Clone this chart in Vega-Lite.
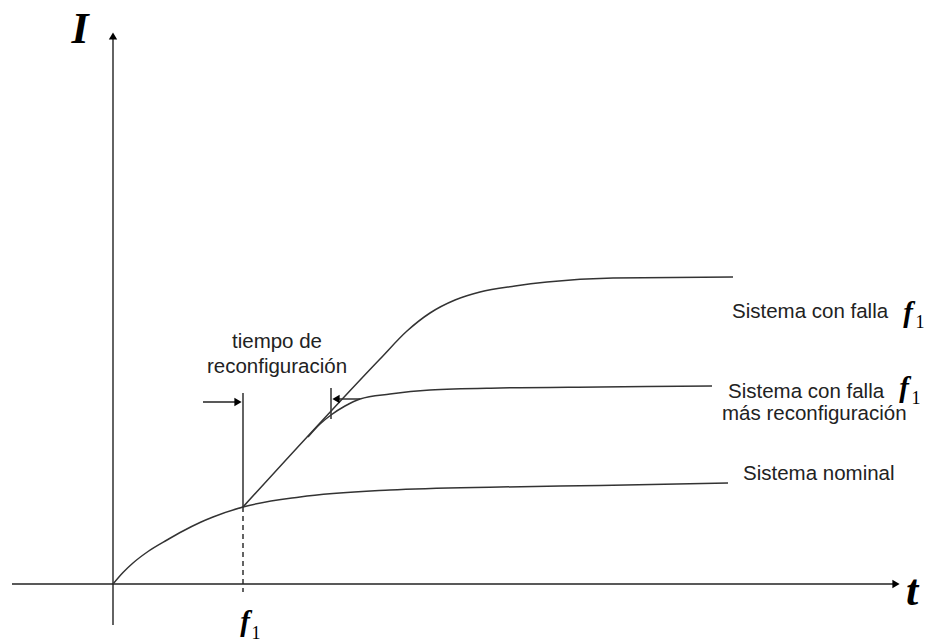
{
  "$schema": "https://vega.github.io/schema/vega-lite/v6.json",
  "width": 929,
  "height": 644,
  "autosize": {"type": "none"},
  "padding": 0,
  "background": "white",
  "config": {"view": {"stroke": null}},
  "datasets": {
    "curves": [
      {"series": "nominal", "t": 0.0, "I": 0.0},
      {"series": "nominal", "t": 0.10, "I": 0.115},
      {"series": "nominal", "t": 0.20, "I": 0.21},
      {"series": "nominal", "t": 0.35, "I": 0.325},
      {"series": "nominal", "t": 0.54, "I": 0.44},
      {"series": "nominal", "t": 0.70, "I": 0.53},
      {"series": "nominal", "t": 0.87, "I": 0.615},
      {"series": "nominal", "t": 1.00, "I": 0.67},
      {"series": "nominal", "t": 1.30, "I": 0.77},
      {"series": "nominal", "t": 1.87, "I": 0.87},
      {"series": "nominal", "t": 2.77, "I": 0.94},
      {"series": "nominal", "t": 3.87, "I": 0.97},
      {"series": "nominal", "t": 4.87, "I": 0.985},
      {"series": "nominal", "t": 6.15, "I": 1.01},
      {"series": "falla", "t": 1.30, "I": 0.77},
      {"series": "falla", "t": 2.67, "I": 2.25},
      {"series": "falla", "t": 2.94, "I": 2.53},
      {"series": "falla", "t": 3.17, "I": 2.71},
      {"series": "falla", "t": 3.42, "I": 2.84},
      {"series": "falla", "t": 3.67, "I": 2.92},
      {"series": "falla", "t": 4.02, "I": 2.98},
      {"series": "falla", "t": 4.34, "I": 3.02},
      {"series": "falla", "t": 5.00, "I": 3.06},
      {"series": "falla", "t": 6.20, "I": 3.07},
      {"series": "reconf", "t": 1.95, "I": 1.47},
      {"series": "reconf", "t": 2.07, "I": 1.60},
      {"series": "reconf", "t": 2.18, "I": 1.69},
      {"series": "reconf", "t": 2.32, "I": 1.78},
      {"series": "reconf", "t": 2.47, "I": 1.85},
      {"series": "reconf", "t": 2.77, "I": 1.90},
      {"series": "reconf", "t": 3.17, "I": 1.94},
      {"series": "reconf", "t": 3.87, "I": 1.96},
      {"series": "reconf", "t": 4.87, "I": 1.97},
      {"series": "reconf", "t": 5.99, "I": 1.98}
    ],
    "segments": [
      {"name": "t-axis", "t": -1.01, "I": 0, "t2": 7.80, "I2": 0},
      {"name": "I-axis", "t": 0, "I": -0.41, "t2": 0, "I2": 5.45},
      {"name": "arrow-left", "t": 0.90, "I": 1.82, "t2": 1.25, "I2": 1.82},
      {"name": "bar-left", "t": 1.30, "I": 1.91, "t2": 1.30, "I2": 0.77},
      {"name": "bar-right", "t": 2.18, "I": 1.96, "t2": 2.18, "I2": 1.65},
      {"name": "arrow-right", "t": 2.47, "I": 1.85, "t2": 2.23, "I2": 1.85}
    ],
    "dashed": [
      {"t": 1.30, "I": 0.77, "t2": 1.30, "I2": -0.08}
    ],
    "heads": [
      {"dir": "right", "t": 7.83, "I": 0},
      {"dir": "up", "t": 0, "I": 5.48},
      {"dir": "right", "t": 1.25, "I": 1.82},
      {"dir": "left", "t": 2.23, "I": 1.85}
    ],
    "labels": [
      {"text": "tiempo de", "t": 1.64, "I": 2.36, "pos": "center"},
      {"text": "reconfiguración", "t": 1.64, "I": 2.11, "pos": "center"},
      {"text": "Sistema con falla", "t": 6.19, "I": 2.66, "pos": "left"},
      {"text": "Sistema con falla", "t": 6.15, "I": 1.86, "pos": "left"},
      {"text": "más  reconfiguración", "t": 6.09, "I": 1.64, "pos": "left"},
      {"text": "Sistema nominal", "t": 6.30, "I": 1.04, "pos": "left"}
    ],
    "symbols": [
      {"text": "I", "t": -0.33, "I": 5.41, "kind": "big"},
      {"text": "t", "t": 7.99, "I": -0.21, "kind": "big"},
      {"text": "f", "t": 1.32, "I": -0.47, "kind": "f"},
      {"text": "f", "t": 7.95, "I": 2.62, "kind": "f"},
      {"text": "f", "t": 7.91, "I": 1.87, "kind": "f"}
    ],
    "subs": [
      {"text": "1", "t": 1.43, "I": -0.55},
      {"text": "1", "t": 8.07, "I": 2.56},
      {"text": "1", "t": 8.03, "I": 1.80}
    ]
  },
  "layer": [
    {
      "data": {"name": "segments"},
      "mark": {"type": "rule", "color": "#222", "strokeWidth": 1.4},
      "encoding": {
        "x": {"field": "t", "type": "quantitative", "scale": {"domain": [-1.13, 8.16], "nice": false, "zero": false}, "axis": null},
        "y": {"field": "I", "type": "quantitative", "scale": {"domain": [-0.60, 5.84], "nice": false, "zero": false}, "axis": null},
        "x2": {"field": "t2"},
        "y2": {"field": "I2"}
      }
    },
    {
      "data": {"name": "dashed"},
      "mark": {"type": "rule", "color": "#222", "strokeWidth": 1.4, "strokeDash": [5, 4]},
      "encoding": {
        "x": {"field": "t", "type": "quantitative"},
        "y": {"field": "I", "type": "quantitative"},
        "x2": {"field": "t2"},
        "y2": {"field": "I2"}
      }
    },
    {
      "data": {"name": "curves"},
      "mark": {"type": "line", "color": "#333", "strokeWidth": 1.5, "interpolate": "monotone"},
      "encoding": {
        "x": {"field": "t", "type": "quantitative"},
        "y": {"field": "I", "type": "quantitative"},
        "detail": {"field": "series"}
      }
    },
    {
      "data": {"name": "heads"},
      "transform": [{"filter": "datum.dir === 'right'"}],
      "mark": {"type": "point", "shape": "triangle-right", "filled": true, "color": "#000", "size": 70, "opacity": 1},
      "encoding": {
        "x": {"field": "t", "type": "quantitative"},
        "y": {"field": "I", "type": "quantitative"}
      }
    },
    {
      "data": {"name": "heads"},
      "transform": [{"filter": "datum.dir === 'left'"}],
      "mark": {"type": "point", "shape": "triangle-left", "filled": true, "color": "#000", "size": 70, "opacity": 1},
      "encoding": {
        "x": {"field": "t", "type": "quantitative"},
        "y": {"field": "I", "type": "quantitative"}
      }
    },
    {
      "data": {"name": "heads"},
      "transform": [{"filter": "datum.dir === 'up'"}],
      "mark": {"type": "point", "shape": "triangle-up", "filled": true, "color": "#000", "size": 70, "opacity": 1},
      "encoding": {
        "x": {"field": "t", "type": "quantitative"},
        "y": {"field": "I", "type": "quantitative"}
      }
    },
    {
      "data": {"name": "labels"},
      "transform": [{"filter": "datum.pos === 'center'"}],
      "mark": {"type": "text", "font": "Liberation Sans", "fontSize": 20.5, "color": "#222", "align": "center", "baseline": "alphabetic"},
      "encoding": {
        "x": {"field": "t", "type": "quantitative"},
        "y": {"field": "I", "type": "quantitative"},
        "text": {"field": "text"}
      }
    },
    {
      "data": {"name": "labels"},
      "transform": [{"filter": "datum.pos === 'left'"}],
      "mark": {"type": "text", "font": "Liberation Sans", "fontSize": 20.5, "color": "#222", "align": "left", "baseline": "alphabetic"},
      "encoding": {
        "x": {"field": "t", "type": "quantitative"},
        "y": {"field": "I", "type": "quantitative"},
        "text": {"field": "text"}
      }
    },
    {
      "data": {"name": "symbols"},
      "transform": [{"filter": "datum.kind === 'big'"}],
      "mark": {"type": "text", "font": "Liberation Serif", "fontStyle": "italic", "fontWeight": "bold", "fontSize": 44, "color": "#000", "align": "center", "baseline": "alphabetic"},
      "encoding": {
        "x": {"field": "t", "type": "quantitative"},
        "y": {"field": "I", "type": "quantitative"},
        "text": {"field": "text"}
      }
    },
    {
      "data": {"name": "symbols"},
      "transform": [{"filter": "datum.kind === 'f'"}],
      "mark": {"type": "text", "font": "Liberation Serif", "fontStyle": "italic", "fontWeight": "bold", "fontSize": 29, "color": "#000", "align": "center", "baseline": "alphabetic"},
      "encoding": {
        "x": {"field": "t", "type": "quantitative"},
        "y": {"field": "I", "type": "quantitative"},
        "text": {"field": "text"}
      }
    },
    {
      "data": {"name": "subs"},
      "mark": {"type": "text", "font": "Liberation Serif", "fontSize": 18, "color": "#000", "align": "center", "baseline": "alphabetic"},
      "encoding": {
        "x": {"field": "t", "type": "quantitative"},
        "y": {"field": "I", "type": "quantitative"},
        "text": {"field": "text"}
      }
    }
  ]
}
